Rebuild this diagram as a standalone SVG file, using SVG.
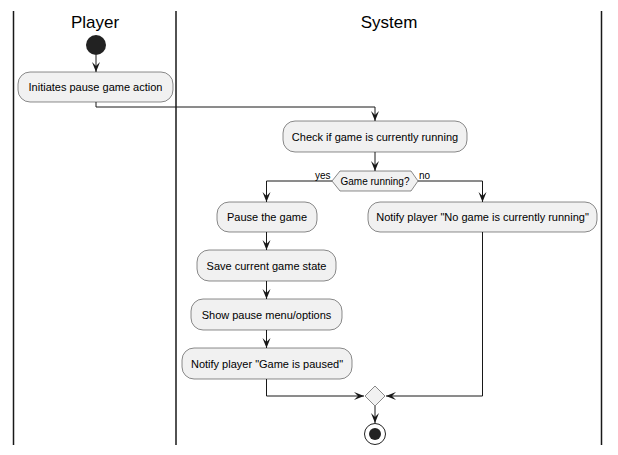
<svg xmlns="http://www.w3.org/2000/svg" width="618" height="455" viewBox="0 0 618 455">
<defs>
<style>
.lane{stroke:#181818;stroke-width:1.5;fill:none}
.title{font-family:"Liberation Sans",Arial,sans-serif;font-size:17px;fill:#000;text-anchor:middle}
.box{fill:#F1F1F1;stroke:#181818;stroke-width:0.5}
.t{font-family:"Liberation Sans",Arial,sans-serif;font-size:11px;fill:#000;text-anchor:middle}
.s{font-family:"Liberation Sans",Arial,sans-serif;font-size:10px;fill:#000}
.c{stroke:#181818;stroke-width:1;fill:none}
</style>
<marker id="arr" viewBox="0 0 10 10" refX="10" refY="5" markerWidth="10" markerHeight="10" markerUnits="userSpaceOnUse" orient="auto">
<path d="M0,1 L10,5 L0,9 L4,5 Z" fill="#181818"/>
</marker>
</defs>
<rect width="618" height="455" fill="#fff"/>
<g id="lanes">
<line class="lane" x1="13.5" y1="11" x2="13.5" y2="445"/>
<line class="lane" x1="176" y1="11" x2="176" y2="445"/>
<line class="lane" x1="601.5" y1="11" x2="601.5" y2="445"/>
<text class="title" x="95" y="28">Player</text>
<text class="title" x="389" y="28">System</text>
</g>
<g id="connectors">
<path class="c" d="M96,55 V72" marker-end="url(#arr)"/>
<path class="c" d="M96,102 V107 H375 V121" marker-end="url(#arr)"/>
<path class="c" d="M375,152 V171" marker-end="url(#arr)"/>
<path class="c" d="M332,181 H266.5 V202" marker-end="url(#arr)"/>
<path class="c" d="M418,181 H482.5 V202" marker-end="url(#arr)"/>
<path class="c" d="M266.5,232 V250" marker-end="url(#arr)"/>
<path class="c" d="M266.5,281 V299" marker-end="url(#arr)"/>
<path class="c" d="M266.5,330 V348" marker-end="url(#arr)"/>
<path class="c" d="M266.5,379 V396 H364" marker-end="url(#arr)"/>
<path class="c" d="M482.5,232 V396 H386" marker-end="url(#arr)"/>
<path class="c" d="M375,406 V423" marker-end="url(#arr)"/>
<text class="s" x="315" y="179">yes</text>
<text class="s" x="419" y="179">no</text>
</g>
<g id="start"><circle cx="96" cy="45" r="10" fill="#222"/></g>
<g id="initiate"><rect class="box" x="18" y="72" width="155" height="30" rx="12"/><text class="t" x="95.5" y="91">Initiates pause game action</text></g>
<g id="check"><rect class="box" x="283" y="121" width="184" height="31" rx="12"/><text class="t" x="375" y="140.5">Check if game is currently running</text></g>
<g id="decision"><polygon class="box" points="332,181 340,171 411,171 418,181 411,191 340,191"/><text class="t" x="375" y="185" style="font-size:10px">Game running?</text></g>
<g id="pause"><rect class="box" x="217" y="202" width="100" height="30" rx="12"/><text class="t" x="267" y="221">Pause the game</text></g>
<g id="nogame"><rect class="box" x="368" y="202" width="229" height="30" rx="12"/><text class="t" x="482.5" y="221">Notify player "No game is currently running"</text></g>
<g id="save"><rect class="box" x="197" y="250" width="139" height="31" rx="12"/><text class="t" x="266.5" y="269.5">Save current game state</text></g>
<g id="menu"><rect class="box" x="191" y="299" width="151" height="31" rx="12"/><text class="t" x="266.5" y="318.5">Show pause menu/options</text></g>
<g id="notifypaused"><rect class="box" x="182" y="348" width="170" height="31" rx="12"/><text class="t" x="267" y="367.5">Notify player "Game is paused"</text></g>
<g id="merge"><polygon class="box" points="375,386 385,396 375,406 365,396"/></g>
<g id="end"><circle cx="375" cy="434" r="10.5" fill="#fff" stroke="#222" stroke-width="1"/><circle cx="375" cy="434" r="6" fill="#222"/></g>
</svg>
